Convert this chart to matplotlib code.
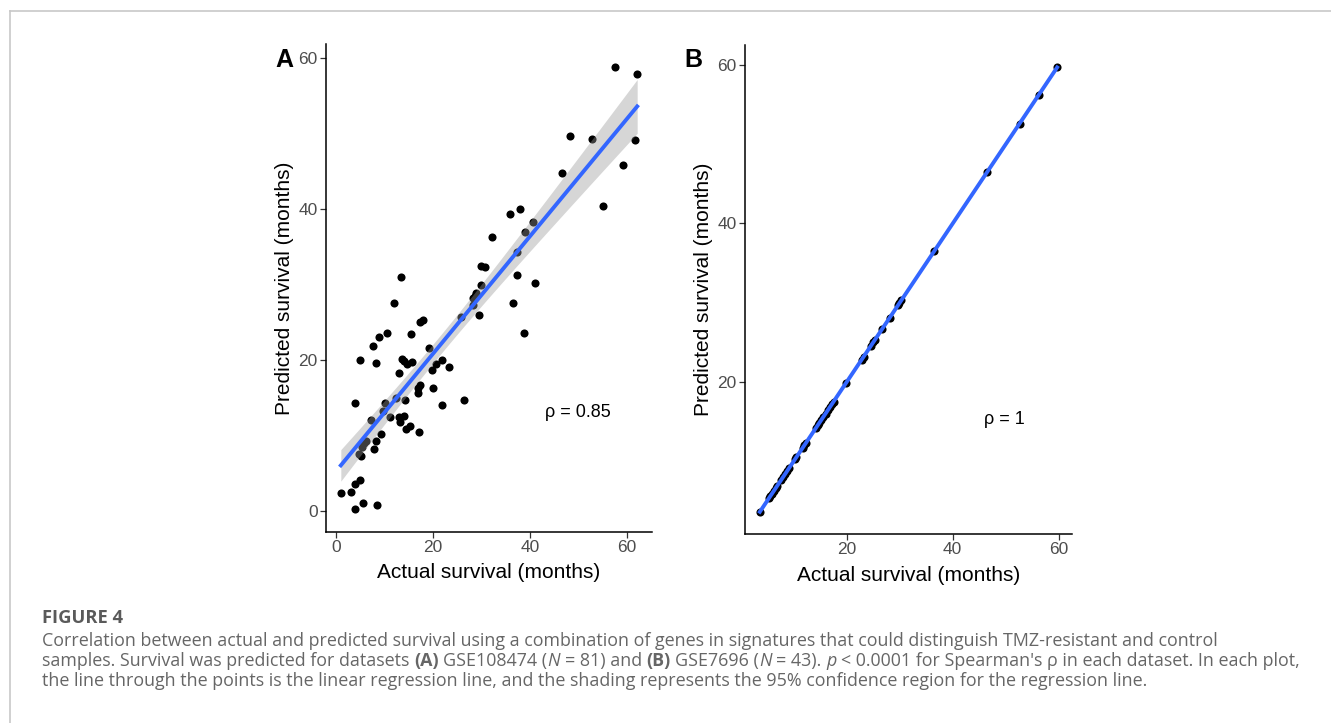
"""Figure 4: actual vs predicted survival, two datasets with lm fit and 95% band."""

import matplotlib.pyplot as plt
import numpy as np
from matplotlib import font_manager
from matplotlib.lines import Line2D

# panel A: GSE108474 (N = 81)
actual_a = [
    57.7, 62.2, 48.3, 52.9, 61.7, 59.3, 46.7, 55.2, 35.9, 37.9,
    40.6, 38.9, 32.2, 37.3, 29.9, 30.7, 37.3, 41.0, 13.4, 29.8,
    28.9, 28.2, 28.2, 36.5, 11.9, 29.4, 25.7, 38.8, 17.3, 17.8,
    10.55, 8.9, 15.5, 7.6, 19.1, 4.9, 8.1, 13.6, 14.5, 15.7,
    13.0, 20.5, 21.9, 19.8, 23.2, 17.3, 16.8, 16.9, 19.9, 3.8,
    10.1, 12.35, 14.1, 21.9, 26.3, 9.7, 11.0, 7.2, 13.0, 13.9,
    13.2, 15.25, 14.3, 17.0, 9.3, 8.2, 5.7, 5.2, 4.75, 7.8,
    4.9, 3.9, 0.9, 3.1, 5.4, 3.9, 8.3, 6.1, 5.1, 28.6, 13.9,
]
predicted_a = [
    58.85, 57.9, 49.7, 49.2, 49.1, 45.8, 44.7, 40.4, 39.3, 40.0,
    38.3, 37.0, 36.3, 34.3, 32.5, 32.3, 31.3, 30.2, 31.0, 29.9,
    28.9, 28.2, 27.3, 27.5, 27.5, 25.9, 25.7, 23.6, 25.0, 25.3,
    23.6, 23.1, 23.4, 21.9, 21.6, 20.0, 19.6, 20.1, 19.4, 19.7,
    18.3, 19.5, 20.0, 18.7, 19.1, 16.7, 16.25, 15.6, 16.25, 14.3,
    14.3, 14.9, 14.7, 14.0, 14.7, 13.2, 12.4, 12.05, 12.5, 12.6,
    11.8, 11.3, 10.9, 10.5, 10.2, 9.2, 9.05, 8.5, 7.55, 8.2,
    4.1, 3.6, 2.4, 2.5, 1.0, 0.2, 0.8, 9.2, 7.3, 28.5, 19.9,
]

# panel B: GSE7696 (N = 43)
actual_b = [
    3.6, 5.3, 5.6, 5.9, 6.2, 6.6, 6.9, 7.6, 8.0, 8.4,
    8.8, 9.1, 10.3, 10.5, 11.7, 12.0, 12.3, 14.2, 14.5, 14.8,
    15.2, 15.6, 16.0, 16.4, 16.8, 17.2, 17.5, 19.9, 22.8, 23.2,
    24.5, 25.0, 25.3, 26.7, 28.1, 29.7, 29.9, 30.3, 36.5, 46.5,
    52.6, 56.2, 59.7,
]
predicted_b = list(actual_b)

rho_labels = ["\u03c1 = 0.85", "\u03c1 = 1"]
panel_letters = ["A", "B"]
t_crit = [1.9905, 2.0195]  # t(0.975) for df = 79 and df = 41

caption_head = "FIGURE 4"
# each caption line is a list of (text, style[, space after]) runs
caption_lines = [
    [("Correlation between actual and predicted survival using a combination of genes in "
      "signatures that could distinguish TMZ-resistant and control", "normal")],
    [("samples. Survival was predicted for datasets", "normal"), ("(A)", "bold"),
     ("GSE108474 (", "normal", False), ("N", "italic"), ("= 81) and", "normal"), ("(B)", "bold"),
     ("GSE7696 (", "normal", False), ("N", "italic"), ("= 43).", "normal"), ("p", "italic"),
     ("< 0.0001 for Spearman's \u03c1 in each dataset. In each plot,", "normal")],
    [("the line through the points is the linear regression line, and the shading represents "
      "the 95% confidence region for the regression line.", "normal")],
]

W, H = 1331, 723
plt.rcParams["font.family"] = ["Liberation Sans", "DejaVu Sans"]

fig = plt.figure(figsize=(W / 100, H / 100), dpi=100)
renderer = fig.canvas.get_renderer()


def fx(px):
    return px / W


def fy(py):
    return 1 - py / H


def lm_panel(ax, x, y, t_value, ticks):
    x = np.asarray(x, dtype=float)
    y = np.asarray(y, dtype=float)
    ax.scatter(x, y, s=34, color="black", linewidths=0, zorder=2)

    slope, intercept = np.polyfit(x, y, 1)
    grid = np.linspace(x.min(), x.max(), 200)
    fit = intercept + slope * grid
    resid = y - (intercept + slope * x)
    n = len(x)
    s = np.sqrt(np.sum(resid ** 2) / (n - 2))
    sxx = np.sum((x - x.mean()) ** 2)
    se = s * np.sqrt(1 / n + (grid - x.mean()) ** 2 / sxx)
    ax.fill_between(grid, fit - t_value * se, fit + t_value * se,
                    color="#999999", alpha=0.4, linewidth=0, zorder=3)
    ax.plot(grid, fit, color="#3366FF", linewidth=2.8, zorder=4)

    # ggplot-like 5% expansion
    xr = x.max() - x.min()
    yr = y.max() - y.min()
    ax.set_xlim(x.min() - 0.05 * xr, x.max() + 0.05 * xr)
    ax.set_ylim(y.min() - 0.05 * yr, y.max() + 0.05 * yr)

    for side in ["top", "right"]:
        ax.spines[side].set_visible(False)
    for side in ["left", "bottom"]:
        ax.spines[side].set_linewidth(1.1)
        ax.spines[side].set_color("black")
    ax.tick_params(length=4, width=0.9, color="#333333", labelcolor="#4D4D4D",
                   labelsize=12.5, pad=2)
    ax.set_xticks(ticks)
    ax.set_yticks(ticks)
    ax.set_xlabel("Actual survival (months)", fontsize=15, labelpad=6)
    ax.set_ylabel("Predicted survival (months)", fontsize=15, labelpad=3)


ax_a = fig.add_axes([fx(326), fy(531.6), fx(652) - fx(326), fy(44.4) - fy(531.6)])
lm_panel(ax_a, actual_a, predicted_a, t_crit[0], [0, 20, 40, 60])
ax_a.text(49.9, 13.0, rho_labels[0], fontsize=13, ha="center", va="center")

ax_b = fig.add_axes([fx(745), fy(534), fx(1072) - fx(745), fy(45.2) - fy(534)])
lm_panel(ax_b, actual_b, predicted_b, t_crit[1], [20, 40, 60])
ax_b.text(49.8, 15.2, rho_labels[1], fontsize=13, ha="center", va="center")

fig.text(fx(284), fy(60), panel_letters[0], fontsize=18, fontweight="bold", ha="center", va="center")
fig.text(fx(693), fy(60), panel_letters[1], fontsize=18, fontweight="bold", ha="center", va="center")

# page frame
frame = "#C8C8C8"
fig.add_artist(Line2D([fx(9.5), 1], [fy(11), fy(11)], color=frame, linewidth=1.2))
fig.add_artist(Line2D([fx(9.5), fx(9.5)], [fy(11), 0], color=frame, linewidth=1.2))

# caption font: a wide humanist sans if installed
installed = {entry.name for entry in font_manager.fontManager.ttflist}
cap_family = "Open Sans" if "Open Sans" in installed else "DejaVu Sans"


def text_props(size, style):
    return dict(family=[cap_family, "DejaVu Sans"], fontsize=size,
                fontweight="bold" if style == "bold" else "normal",
                fontstyle="italic" if style == "italic" else "normal")


def run_width(text, size, style):
    # width of a run, measured between two bars so edge spaces count
    a = fig.text(0, 0, "|" + text + "|", **text_props(size, style))
    b = fig.text(0, 0, "||", **text_props(size, style))
    w = a.get_window_extent(renderer).width - b.get_window_extent(renderer).width
    a.remove()
    b.remove()
    return w


def line_width(runs, size):
    total = 0.0
    for run in runs:
        total += run_width(run[0], size, run[1])
        if len(run) < 3 or run[2]:
            total += run_width(" ", size, "normal")
    return total - run_width(" ", size, "normal")


# size the caption so its longest line (the second) ends where the reference's does
cap_left = 42.0
cap_size = 11.0 * (1305 - cap_left) / line_width(caption_lines[1], 11.0)
space_w = run_width(" ", cap_size, "normal")

head_size = 11.0 * 81 / run_width(caption_head, 11.0, "bold")
fig.text(fx(cap_left), fy(618), caption_head, color="#5A5A5A", va="center", ha="left",
         **text_props(head_size, "bold"))

for i, runs in enumerate(caption_lines):
    x_px = cap_left
    for run in runs:
        text, style = run[0], run[1]
        gap_after = run[2] if len(run) > 2 else True
        fig.text(fx(x_px), fy(641 + 20 * i), text, color="#666666", va="center", ha="left",
                 **text_props(cap_size, style))
        x_px += run_width(text, cap_size, style)
        if gap_after:
            x_px += space_w

fig.savefig("out.png", dpi=100)
